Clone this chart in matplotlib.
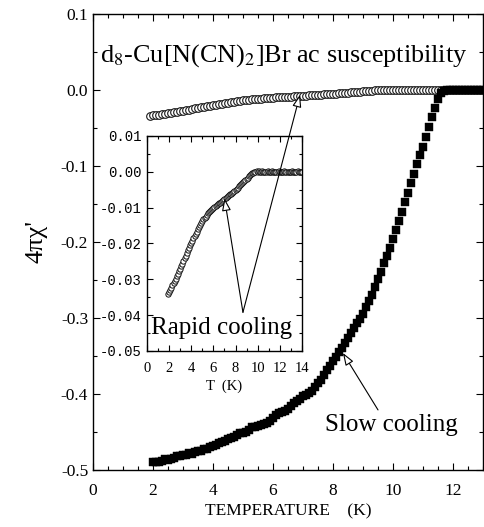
import numpy as np
import matplotlib.pyplot as plt
from matplotlib.ticker import MultipleLocator, FuncFormatter

plt.rcParams['font.family'] = ['Liberation Serif', 'DejaVu Serif']
plt.rcParams['mathtext.fontset'] = 'stix'

# slow cooling, 0.1 K steps from 2.0 K to 13.0 K
temp_slow = np.round(np.arange(2.0, 13.01, 0.1), 1)
chi_slow = [
    -0.490, -0.489, -0.489, -0.488, -0.486, -0.487, -0.485, -0.484, -0.482, -0.482,
    -0.480, -0.480, -0.478, -0.479, -0.476, -0.475, -0.475, -0.472, -0.472, -0.470,
    -0.468, -0.467, -0.464, -0.463, -0.462, -0.459, -0.458, -0.456, -0.454, -0.452,
    -0.451, -0.450, -0.448, -0.444, -0.443, -0.442, -0.441, -0.440, -0.438, -0.436,
    -0.431, -0.428, -0.425, -0.424, -0.422, -0.420, -0.416, -0.412, -0.409, -0.406,
    -0.403, -0.401, -0.399, -0.396, -0.391, -0.386, -0.381, -0.375, -0.369, -0.363,
    -0.357, -0.351, -0.345, -0.339, -0.333, -0.327, -0.320, -0.313, -0.307, -0.301,
    -0.295, -0.286, -0.278, -0.270, -0.259, -0.249, -0.239, -0.228, -0.218, -0.208,
    -0.196, -0.184, -0.172, -0.160, -0.148, -0.135, -0.122, -0.110, -0.097, -0.086,
    -0.075, -0.062, -0.049, -0.036, -0.024, -0.012, -0.004, -0.001, 0.000, 0.000,
    0.000, 0.000, 0.000, 0.000, 0.000, 0.000, 0.000, 0.000, 0.000, 0.000, 0.000,
]

# rapid cooling, 0.1 K steps from 1.9 K to 14.0 K
temp_rapid = np.round(np.arange(1.9, 14.01, 0.1), 1)
chi_rapid = [
    -0.0340, -0.0335, -0.0329, -0.0323, -0.0316, -0.0310, -0.0304, -0.0298, -0.0292, -0.0285,
    -0.0278, -0.0272, -0.0264, -0.0257, -0.0249, -0.0241, -0.0234, -0.0226, -0.0219, -0.0212,
    -0.0205, -0.0198, -0.0192, -0.0186, -0.0180, -0.0173, -0.0167, -0.0161, -0.0155, -0.0149,
    -0.0143, -0.0138, -0.0133, -0.0129, -0.0125, -0.0120, -0.0116, -0.0113, -0.0110, -0.0107,
    -0.0104, -0.0101, -0.0098, -0.0096, -0.0093, -0.0091, -0.0088, -0.0086, -0.0083, -0.0081,
    -0.0078, -0.0075, -0.0073, -0.0070, -0.0068, -0.0066, -0.0063, -0.0061, -0.0058, -0.0056,
    -0.0053, -0.0050, -0.0047, -0.0044, -0.0041, -0.0038, -0.0035, -0.0032, -0.0029, -0.0025,
    -0.0022, -0.0019, -0.0016, -0.0013, -0.0010, -0.0007, -0.0004, -0.0002, -0.0001, 0.0000,
    0.0001, 0.0000, 0.0001, 0.0000, 0.0000, 0.0001, 0.0000, -0.0001, 0.0000, 0.0000,
    0.0001, 0.0000, 0.0000, 0.0000, 0.0001, 0.0000, 0.0000, -0.0001, 0.0000, 0.0000,
    0.0001, 0.0000, 0.0000, 0.0000, 0.0000, 0.0001, 0.0000, 0.0000, 0.0000, -0.0001,
    0.0000, 0.0000, 0.0001, 0.0000, 0.0000, 0.0000, 0.0000, 0.0001, 0.0000, 0.0000,
    0.0000, 0.0000,
]

fig = plt.figure(figsize=(4.85, 5.27), dpi=100)
ax = fig.add_axes([0.1918, 0.1082, 0.8041, 0.8653])

ax.plot(temp_rapid, chi_rapid, ls='None', marker='o', ms=5.5, mfc='white',
        mec='#1a1a1a', mew=0.8)
ax.plot(temp_slow, chi_slow, ls='None', marker='s', ms=5.5, mfc='black',
        mec='black', mew=0.3)

ax.set_xlim(0, 13)
ax.set_ylim(-0.5, 0.1)
ax.xaxis.set_major_locator(MultipleLocator(2))
ax.xaxis.set_minor_locator(MultipleLocator(0.5))
ax.yaxis.set_major_locator(MultipleLocator(0.1))
ax.yaxis.set_minor_locator(MultipleLocator(0.05))
ax.yaxis.set_major_formatter(FuncFormatter(lambda v, p: '%.1f' % v if abs(v) > 1e-9 else '0.0'))
ax.tick_params(which='both', direction='in', top=True, right=True, labelsize=12.5)
ax.tick_params(which='major', length=5, width=0.8)
ax.tick_params(which='minor', length=3, width=0.8)
ax.tick_params(axis='x', pad=9.5)
for s in ax.spines.values():
    s.set_linewidth(1.0)

ax.set_xlabel('TEMPERATURE    (K)', fontsize=12.5, labelpad=3)
ax.set_ylabel("4πχ'", fontsize=19)
ax.yaxis.set_label_coords(-0.118, 0.5)

ax.text(6.35, 0.045, r'd$_8$-Cu[N(CN)$_2$]Br ac susceptibility', fontsize=18.8,
        ha='center', va='center')

ax.text(9.93, -0.441, 'Slow cooling', fontsize=18, ha='center', va='center')
arrow_open = dict(arrowstyle='-|>,head_length=0.75,head_width=0.27', fc='white',
                  ec='black', lw=0.8, shrinkA=0, shrinkB=0)
ax.annotate('', xy=(8.33, -0.346), xytext=(9.5, -0.421), arrowprops=arrow_open)

# inset
ins = fig.add_axes([0.303, 0.334, 0.3196, 0.408])
ins.plot(temp_rapid, chi_rapid, ls='None', marker='o', ms=3.8, mfc='white',
         mec='#111111', mew=0.7)
ins.set_xlim(0, 14)
ins.set_ylim(-0.05, 0.01)
ins.xaxis.set_major_locator(MultipleLocator(2))
ins.xaxis.set_minor_locator(MultipleLocator(1))
ins.yaxis.set_major_locator(MultipleLocator(0.01))
ins.yaxis.set_minor_locator(MultipleLocator(0.005))
ins.yaxis.set_major_formatter(FuncFormatter(lambda v, p: '%.2f' % v if abs(v) > 1e-9 else '0.00'))
ins.tick_params(which='both', direction='in', top=True, right=True)
ins.tick_params(which='major', length=4, width=0.8)
ins.tick_params(which='minor', length=2.5, width=0.8)
ins.tick_params(axis='x', labelsize=10.5, pad=8)
ins.tick_params(axis='y', labelsize=10, pad=4)
for lab in ins.get_yticklabels():
    lab.set_family('Liberation Mono')
for s in ins.spines.values():
    s.set_linewidth(1.0)
ins.set_xlabel('T  (K)', fontsize=10.5, labelpad=3)

ins.text(6.75, -0.0437, 'Rapid cooling', fontsize=18, ha='center', va='center')
apex = (8.67, -0.0392)
ins.annotate('', xy=(7.0, -0.0074), xytext=apex, arrowprops=arrow_open)
ins.annotate('', xy=(6.9, -0.0062), xycoords=ax.transData, xytext=apex,
             textcoords=ins.transData, arrowprops=arrow_open, annotation_clip=False)

fig.savefig('out.png', dpi=100)
